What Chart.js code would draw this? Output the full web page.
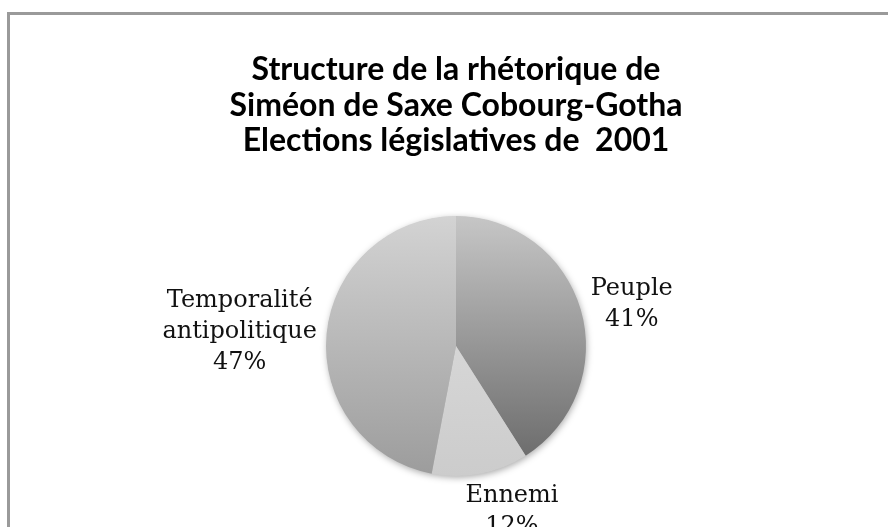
<!DOCTYPE html>
<html>
<head>
<meta charset="utf-8">
<script src="https://cdn.jsdelivr.net/npm/chart.js@4"></script>
<style>
  html, body { margin: 0; padding: 0; background: #fff; }
  #wrap { position: relative; width: 888px; height: 527px; }
  #frame { position: absolute; left: 7px; top: 12px; right: -4px; bottom: -4px; border: 3px solid #9a9a9a; border-right: none; border-bottom: none; }
  canvas { position: absolute; left: 0; top: 0; }
</style>
</head>
<body>
<div id="wrap">
  <div id="frame"></div>
  <canvas id="pieChart" width="888" height="527"></canvas>
</div>
<script>
const titleLines = ['Structure de la rhétorique de', 'Siméon de Saxe Cobourg-Gotha', 'Elections législatives de  2001'];
const categories = [['Peuple'], ['Ennemi'], ['Temporalité', 'antipolitique']];
const shares = [41, 12, 47];

// top / bottom shades of each slice's vertical gradient
const shadeTop = ['#c6c6c6', '#e0e0e0', '#d3d3d3'];
const shadeBottom = ['#666666', '#cccccc', '#9c9c9c'];
// small nudges for the outside labels
const labelNudge = [[2, 6], [21, -3], [0, 3]];

function sliceFill(context) {
    const area = context.chart.chartArea;
    const i = context.dataIndex;
    if (!area) return shadeTop[i];
    const g = context.chart.ctx.createLinearGradient(0, area.top, 0, area.bottom);
    g.addColorStop(0, shadeTop[i]);
    g.addColorStop(1, shadeBottom[i]);
    return g;
}

const pieShadow = {
    id: 'pieShadow',
    beforeDatasetsDraw(chart) {
        const arc = chart.getDatasetMeta(0).data[0];
        if (!arc) return;
        const ctx = chart.ctx;
        ctx.save();
        ctx.shadowColor = 'rgba(0,0,0,0.35)';
        ctx.shadowBlur = 7;
        ctx.shadowOffsetX = 1;
        ctx.shadowOffsetY = 2;
        ctx.fillStyle = '#bbbbbb';
        ctx.beginPath();
        ctx.arc(arc.x, arc.y, arc.outerRadius - 0.5, 0, Math.PI * 2);
        ctx.fill();
        ctx.restore();
    }
};

const outsideLabels = {
    id: 'outsideLabels',
    afterDatasetsDraw(chart) {
        const ctx = chart.ctx;
        const lh = 31;
        ctx.save();
        ctx.font = '24px "DejaVu Serif"';
        ctx.fillStyle = '#111';
        ctx.textAlign = 'center';
        ctx.textBaseline = 'middle';
        chart.getDatasetMeta(0).data.forEach((arc, i) => {
            const lines = categories[i].concat([shares[i] + '%']);
            const mid = (arc.startAngle + arc.endAngle) / 2;
            const dx = Math.cos(mid), dy = Math.sin(mid);
            const halfW = Math.max(...lines.map(t => ctx.measureText(t).width)) / 2;
            const halfH = lines.length * lh / 2;
            const r = arc.outerRadius + 10;
            const cx = arc.x + dx * r + dx * halfW + labelNudge[i][0];
            const cy = arc.y + dy * r + dy * halfH + labelNudge[i][1];
            lines.forEach((t, k) => {
                ctx.fillText(t, cx, cy - halfH + lh * (k + 0.5));
            });
        });
        ctx.restore();
    }
};

new Chart(document.getElementById('pieChart').getContext('2d'), {
    type: 'pie',
    data: {
        labels: categories.map(c => c.join(' ')),
        datasets: [{
            data: shares,
            backgroundColor: sliceFill,
            borderWidth: 0
        }]
    },
    options: {
        responsive: false,
        animation: false,
        layout: { padding: { left: 24, right: 0, top: 0, bottom: 51 } },
        plugins: {
            legend: { display: false },
            tooltip: { enabled: false },
            title: {
                display: true,
                text: titleLines,
                color: '#000',
                font: { family: 'Lato', size: 32, weight: 'bold', lineHeight: 1.11 },
                padding: { top: 52, bottom: 57.5 }
            }
        }
    },
    plugins: [pieShadow, outsideLabels]
});
</script>
</body>
</html>
